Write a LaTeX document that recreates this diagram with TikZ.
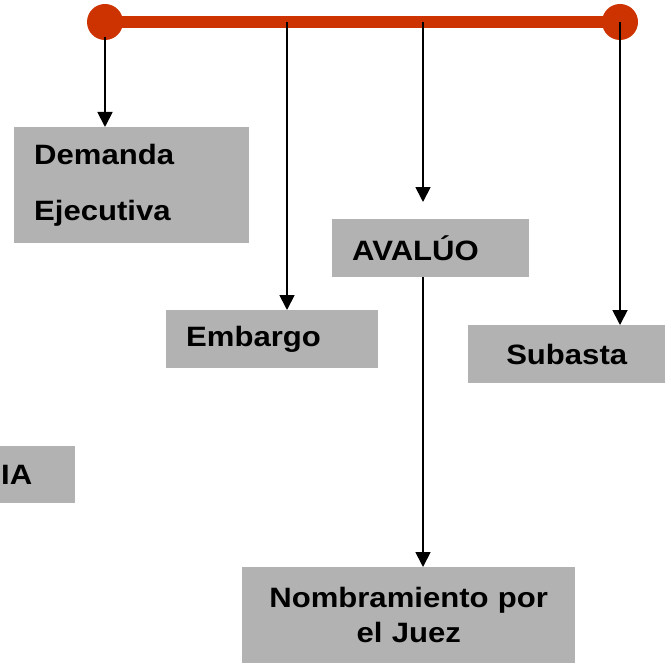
\documentclass[tikz,border=0pt]{standalone}
\usepackage{fontspec}
\setmainfont{Liberation Sans}
\newfontfamily\boxfont[FakeStretch=1.11]{Liberation Sans}
\usetikzlibrary{positioning,arrows.meta}
\definecolor{barred}{HTML}{CC3300}
\definecolor{boxgray}{HTML}{B2B2B2}
\tikzset{box/.style={fill=boxgray,inner sep=0pt,anchor=north west,
    font=\boxfont\bfseries\fontsize{28}{35}\selectfont}}
\tikzset{arr/.style={-{Triangle[length=15pt,width=15pt]},line width=1.8pt}}
\newcommand{\newBox}[6]{\node[box,minimum width=#4pt,minimum height=#5pt,#6](#1) at (#3){#2};}

\begin{document}
\begin{tikzpicture}[x=1pt,y=-1pt]
  \useasboundingbox (0,0) rectangle (671,663);
  % timeline points
  \coordinate (b1) at (105,22);
  \coordinate (b2) at (287,22);
  \coordinate (b3) at (423,22);
  \coordinate (b4) at (620,22);
  \draw[barred,line width=12pt] (b1) -- (b4);
  \fill[barred] (b1) circle (18) (b4) circle (18);
  % boxes
  \newBox{dem}{Demanda\\Ejecutiva}{14,127}{235}{116}{align=left,text width=195pt,font=\boxfont\bfseries\fontsize{28}{56}\selectfont}
  \newBox{emb}{Embargo}{166,310}{212}{58}{align=left,text width=172pt}
  \newBox{ava}{AVALÚO}{332,219}{197}{58}{align=left,text width=157pt}
  \newBox{sub}{Subasta}{468,325}{197}{58}{}
  \newBox{ia}{IA}{-60,446}{135}{57}{align=right,text width=49pt}
  \newBox{nom}{Nombramiento por\\el Juez}{242,567}{333}{96}{align=center,text width=310pt}
  % arrows
  \draw[arr,shorten <=15pt] (b1) -- (b1 |- dem.north);
  \draw[arr] (b2) -- (b2 |- emb.north);
  \draw[arr,shorten >=17pt] (b3) -- (b3 |- ava.north);
  \draw[arr] (b4) -- (b4 |- sub.north);
  \draw[arr] (b3 |- ava.south) -- (b3 |- nom.north);
\end{tikzpicture}
\end{document}
